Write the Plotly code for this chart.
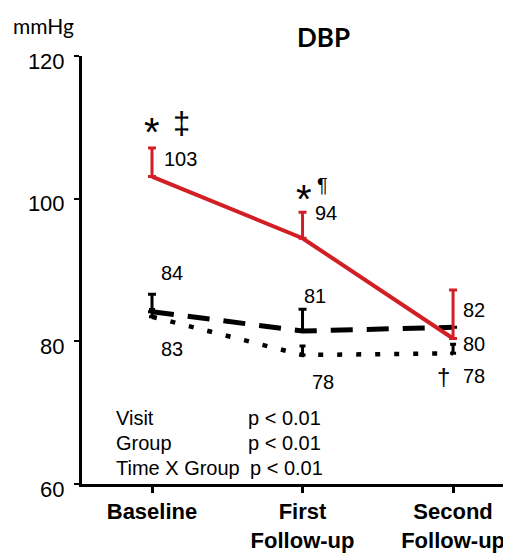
import plotly.graph_objects as go

categories = ["Baseline", "First<br>Follow-up", "Second<br>Follow-up"]
xpos = [0, 1, 2]

red_vals = [103.1, 94.45, 80.4]
red_err = [4.0, 3.65, 6.8]
dash_vals = [84.16, 81.45, 81.97]
dash_err = [2.45, 3.05, 0.0]
dot_vals = [83.45, 78.08, 78.32]
dot_err = [1.0, 1.27, 1.27]

y_ticks = [60, 80, 100, 120]

# value labels
label_texts = ["103", "94", "80", "84", "81", "82", "83", "78", "78"]
label_x = [0.186, 1.156, 2.140, 0.136, 1.086, 2.140, 0.136, 1.136, 2.140]
label_y = [105.5, 98.0, 79.56, 89.58, 86.36, 84.46, 78.86, 74.3, 75.21]

sym_texts = ["*", "‡", "*", "¶", "†"]
sym_x = [-0.003, 0.199, 1.007, 1.133, 1.934]
sym_y = [109.3, 110.47, 100.0, 101.85, 75.07]
sym_sizes = [40, 31, 40, 20, 24]

stat_names = ["Visit", "Group", "Time X Group"]
stat_p = ["p < 0.01", "p < 0.01", "p < 0.01"]
stat_px = [0.625, 0.625, 0.64]
stat_y = [69.25, 65.75, 62.24]

RED = "#d21f26"
FONT = "Liberation Sans, Arial, sans-serif"
TFONT = "Lato, sans-serif"

fig = go.Figure()

fig.add_trace(go.Scatter(
    x=xpos, y=dot_vals, mode="lines",
    line=dict(color="black", width=4.5, dash="5px,14px"),
    error_y=dict(type="data", array=dot_err, arrayminus=[0, 0, 0], symmetric=False,
                 color="black", thickness=3, width=3),
    showlegend=False))
fig.add_trace(go.Scatter(
    x=xpos, y=dash_vals, mode="lines",
    line=dict(color="black", width=5, dash="22px,14px"),
    error_y=dict(type="data", array=dash_err, arrayminus=[0, 0, 0], symmetric=False,
                 color="black", thickness=3, width=4),
    showlegend=False))
fig.add_trace(go.Scatter(
    x=xpos, y=red_vals, mode="lines",
    line=dict(color=RED, width=4),
    error_y=dict(type="data", array=red_err, arrayminus=[0, 0, 0], symmetric=False,
                 color=RED, thickness=3, width=4),
    showlegend=False))

for t, x, y in zip(label_texts, label_x, label_y):
    fig.add_annotation(x=x, y=y, text=t, showarrow=False, xanchor="center", yanchor="middle",
                       font=dict(size=20, color="black", family=FONT))
for t, x, y, s in zip(sym_texts, sym_x, sym_y, sym_sizes):
    fig.add_annotation(x=x, y=y, text=t, showarrow=False, xanchor="center", yanchor="middle",
                       font=dict(size=s, color="black", family=FONT))
for n, p, px, y in zip(stat_names, stat_p, stat_px, stat_y):
    fig.add_annotation(x=-0.252, y=y, text=n, showarrow=False, xanchor="left", yanchor="middle",
                       font=dict(size=20, color="black", family=FONT))
    fig.add_annotation(x=px, y=y, text=p, showarrow=False, xanchor="left", yanchor="middle",
                       font=dict(size=20, color="black", family=FONT))

fig.add_annotation(xref="paper", yref="paper", x=-0.092, y=1.072, text="mmHg", showarrow=False,
                   xanchor="center", yanchor="middle", font=dict(size=21, color="black", family=TFONT))
fig.add_annotation(xref="paper", yref="paper", x=0.570, y=1.044, text="<b>DBP</b>", showarrow=False,
                   xanchor="center", yanchor="middle", font=dict(size=26, color="black", family=TFONT))

fig.update_layout(
    width=503, height=546,
    margin=dict(l=74, r=6, t=48, b=70),
    paper_bgcolor="white", plot_bgcolor="white",
    font=dict(family=FONT, color="black"),
    xaxis=dict(range=[-0.465, 2.345], tickvals=xpos, ticktext=["<b>%s</b>" % c for c in categories],
               showgrid=False, zeroline=False, showline=True, linecolor="black", linewidth=3,
               ticks="outside", ticklen=6, tickwidth=3, tickcolor="black", automargin=False,
               tickfont=dict(size=22, family=FONT, color="black")),
    yaxis=dict(range=[60, 120], tickvals=y_ticks, showgrid=False, zeroline=False,
               showline=True, linecolor="black", linewidth=3, automargin=False,
               ticks="outside", ticklen=5, tickwidth=2, tickcolor="black",
               ticklabelstandoff=5, ticklabelshift=5,
               tickfont=dict(size=22, family=FONT, color="black")),
)

fig.write_html("out.html")
